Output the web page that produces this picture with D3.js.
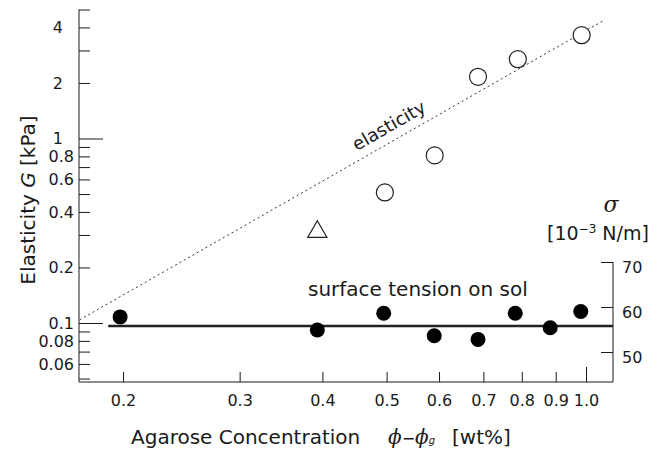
<html>
<head>
<style>
  body { margin: 0; background: #fff; }
  text { font-family: "DejaVu Sans", "Liberation Sans", sans-serif; fill: #1a1a1a; }
  .axis line { stroke: #1a1a1a; }
  .axis path { display: none; }
</style>
</head>
<body>
<svg id="chart" width="669" height="449"></svg>
<script src="https://d3js.org/d3.v7.min.js"></script>
<script>
// elasticity G [kPa] vs agarose concentration (open circles)
const concG = [0.497, 0.591, 0.687, 0.789, 0.985]
const elasticity = [0.51, 0.81, 2.16, 2.69, 3.63]
// the single triangle point
const triConc = [0.393]
const triG = [0.312]
// surface tension on sol, 10^-3 N/m (filled circles)
const concSigma = [0.198, 0.393, 0.495, 0.59, 0.687, 0.782, 0.883, 0.982]
const sigma = [57.8, 54.9, 58.6, 53.6, 52.8, 58.6, 55.4, 59.0]
const sigmaMean = 55.8
// dotted guide line for elasticity (two end points)
const fitConc = [0.172, 1.068]
const fitG = [0.104, 4.4]

const xTicks = [0.2, 0.3, 0.4, 0.5, 0.6, 0.7, 0.8, 0.9, 1.0]
const xTickLabels = ["0.2", "0.3", "0.4", "0.5", "0.6", "0.7", "0.8", "0.9", "1.0"]
const gTicks = [5, 4, 3, 2, 1, 0.9, 0.8, 0.7, 0.6, 0.5, 0.4, 0.3, 0.2, 0.1, 0.09, 0.08, 0.07, 0.06, 0.05]
const gTickLabels = ["", "4", "", "2", "1", "", "0.8", "", "0.6", "", "0.4", "", "0.2", "0.1", "", "0.08", "", "0.06", ""]
const sigmaTicks = [50, 60, 70]

const svg = d3.select("#chart")
const left = 79, right = 613, bottom = 382

let x = d3.scaleLog().domain([0.2, 1]).range([123, 586])
let y = d3.scaleLog().domain([0.1, 1]).range([323, 138.5])
let yR = d3.scaleLinear().domain([50, 70]).range([352, 262])

// axis lines
svg.append("line").attr("x1", left).attr("x2", left).attr("y1", y(5)).attr("y2", bottom)
  .attr("stroke", "#1a1a1a")
svg.append("line").attr("x1", left).attr("x2", right).attr("y1", bottom).attr("y2", bottom)
  .attr("stroke", "#1a1a1a")
svg.append("line").attr("x1", right).attr("x2", right).attr("y1", yR(70)).attr("y2", bottom)
  .attr("stroke", "#1a1a1a")

// left log axis, ticks pointing inward
let gAxis = svg.append("g").attr("class", "axis")
  .attr("transform", `translate(${left},0)`)
  .call(d3.axisLeft(y).tickValues(gTicks).tickSize(-11).tickPadding(6)
    .tickFormat((d, i) => gTickLabels[i]))
gAxis.selectAll(".tick line").filter(d => d === 1 || d === 0.1).attr("x2", 24)
gAxis.selectAll(".tick text")
  .style("font-size", "16px")
  .attr("x", d => (d >= 1 ? -16 : -5))

// bottom log axis
let xAxis = svg.append("g").attr("class", "axis")
  .attr("transform", `translate(0,${bottom})`)
  .call(d3.axisBottom(x).tickValues(xTicks).tickSize(-10).tickPadding(13)
    .tickFormat((d, i) => xTickLabels[i]))
xAxis.selectAll(".tick line").filter(d => d === 1).attr("y2", -15)
xAxis.selectAll(".tick text").style("font-size", "16px")

// right linear axis for surface tension
let sAxis = svg.append("g").attr("class", "axis")
  .attr("transform", `translate(${right},0)`)
  .call(d3.axisRight(yR).tickValues(sigmaTicks).tickSize(-12).tickPadding(9))
sAxis.selectAll(".tick text").style("font-size", "16px").attr("dy", "0.65em")

// dotted elasticity line
let fit = fitConc.map((c, i) => [c, fitG[i]])
svg.append("path")
  .attr("d", d3.line().x(d => x(d[0])).y(d => y(d[1]))(fit))
  .attr("fill", "none").attr("stroke", "#333").attr("stroke-width", 1)
  .attr("stroke-dasharray", "2,3")

// mean surface tension line
svg.append("line")
  .attr("x1", x(0.19)).attr("x2", right)
  .attr("y1", yR(sigmaMean)).attr("y2", yR(sigmaMean))
  .attr("stroke", "#222").attr("stroke-width", 2.5)

// elasticity points
svg.selectAll(".gpt")
  .data(concG.map((c, i) => ({ c, g: elasticity[i] })))
  .enter().append("circle")
  .attr("cx", d => x(d.c)).attr("cy", d => y(d.g)).attr("r", 8.5)
  .attr("fill", "#fff").attr("stroke", "#222").attr("stroke-width", 1.2)

svg.selectAll(".tri")
  .data(triConc.map((c, i) => ({ c, g: triG[i] })))
  .enter().append("path")
  .attr("d", d3.symbol(d3.symbolTriangle, 160))
  .attr("transform", d => `translate(${x(d.c)},${y(d.g)})`)
  .attr("fill", "#fff").attr("stroke", "#222").attr("stroke-width", 1.2)

// surface tension points
svg.selectAll(".spt")
  .data(concSigma.map((c, i) => ({ c, s: sigma[i] })))
  .enter().append("circle")
  .attr("cx", d => x(d.c)).attr("cy", d => yR(d.s)).attr("r", 7.5)
  .attr("fill", "#000")

// annotations
let ang = Math.atan2(y(fitG[1]) - y(fitG[0]), x(fitConc[1]) - x(fitConc[0])) * 180 / Math.PI
svg.append("text")
  .attr("transform", `translate(392,131) rotate(${ang})`)
  .attr("text-anchor", "middle")
  .style("font-size", "18px")
  .text("elasticity")

svg.append("text")
  .attr("x", 308).attr("y", 296)
  .style("font-size", "20px")
  .text("surface tension on sol")

// left axis title
let yt = svg.append("text")
  .attr("transform", "translate(35,200) rotate(-90)")
  .attr("text-anchor", "middle")
  .style("font-size", "20px")
yt.append("tspan").text("Elasticity ")
yt.append("tspan").style("font-style", "italic").text("G")
yt.append("tspan").text(" [kPa]")

// bottom axis title
let xt = svg.append("text")
  .attr("x", 131).attr("y", 444)
  .style("font-size", "20px")
xt.append("tspan").text("Agarose Concentration")
xt.append("tspan").attr("x", 388).style("font-family", "'DejaVu Serif', serif")
  .style("font-style", "italic").text("ϕ")
xt.append("tspan").style("font-size", "16px").text("−")
xt.append("tspan").style("font-family", "'DejaVu Serif', serif")
  .style("font-style", "italic").text("ϕ")
xt.append("tspan").style("font-size", "10px").style("font-style", "italic").text("g")
xt.append("tspan").attr("x", 452).text("[wt%]")

// right axis title
svg.append("text")
  .attr("x", 611).attr("y", 212)
  .attr("text-anchor", "middle")
  .style("font-size", "22px").style("font-style", "italic")
  .style("font-family", "'DejaVu Serif', serif")
  .text("σ")
let rt = svg.append("text")
  .attr("x", 547).attr("y", 240)
  .style("font-size", "19px")
rt.append("tspan").text("[10")
rt.append("tspan").style("font-size", "12px").attr("dy", -7).text("−3")
rt.append("tspan").attr("dy", 7).text(" N/m]")
</script>
</body>
</html>
